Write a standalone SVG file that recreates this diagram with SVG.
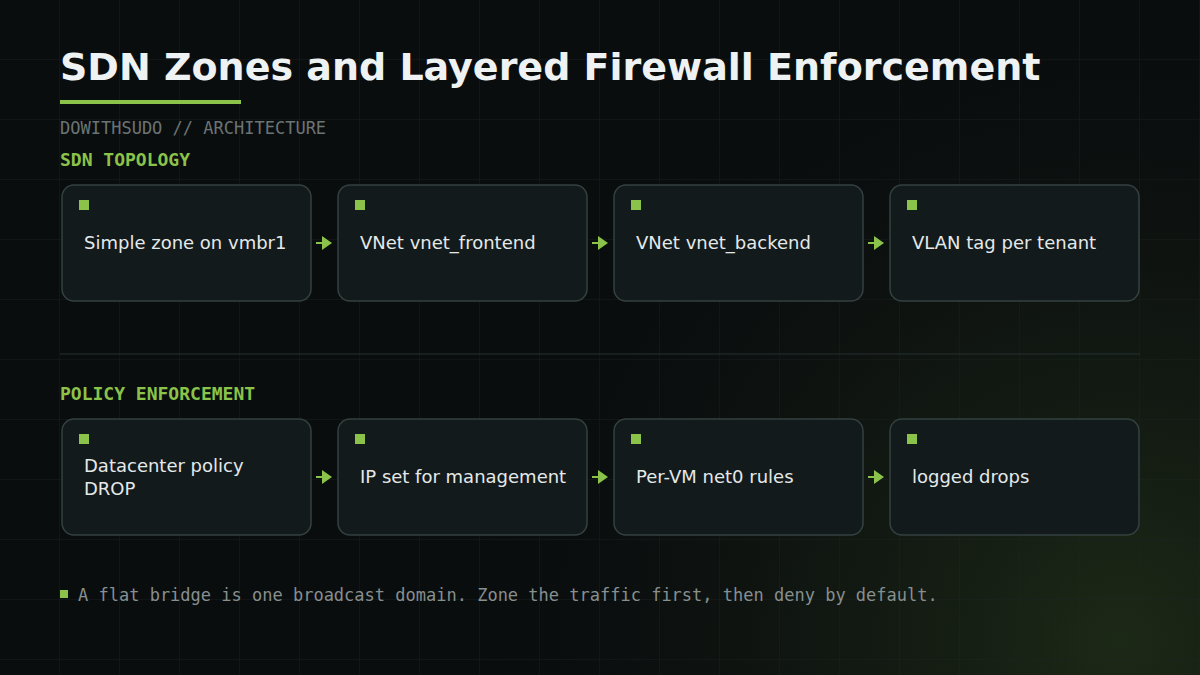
<svg xmlns="http://www.w3.org/2000/svg" width="1200" height="675" viewBox="0 0 1200 675">
  <defs>
    <pattern id="grid" width="60" height="60" patternUnits="userSpaceOnUse">
      <path d="M60 0V60M0 60H60" fill="none" stroke="#1c2424" stroke-width="1" opacity="0.7"/>
    </pattern>
    <radialGradient id="glow" cx="1120" cy="640" r="650" gradientUnits="userSpaceOnUse">
      <stop offset="0" stop-color="#1f2c18" stop-opacity="0.9"/>
      <stop offset="0.5" stop-color="#161f14" stop-opacity="0.5"/>
      <stop offset="1" stop-color="#0a0d0e" stop-opacity="0"/>
    </radialGradient>
    <marker id="arr" viewBox="0 0 10 14" refX="0" refY="7" markerWidth="10" markerHeight="14" markerUnits="userSpaceOnUse" orient="auto">
      <path d="M0 0L10 7L0 14Z" fill="#8bc34a"/>
    </marker>
    <style>
      .title{font-family:"DejaVu Sans",sans-serif;font-weight:bold;font-size:38px;fill:#eef2f3}
      .sub{font-family:"DejaVu Sans Mono",monospace;font-size:17px;fill:#6b7474}
      .sec{font-family:"DejaVu Sans Mono",monospace;font-weight:bold;font-size:18px;fill:#8bc34a}
      .box{fill:#131a1b;stroke:#354040;stroke-width:1.5}
      .dot{fill:#8bc34a}
      .lbl{font-family:"DejaVu Sans",sans-serif;font-size:18px;fill:#e4e9ea}
      .conn{stroke:#8bc34a;stroke-width:2;fill:none}
      .foot{font-family:"DejaVu Sans Mono",monospace;font-size:17px;fill:#878f8f}
    </style>
  </defs>
  <rect width="1200" height="675" fill="#0a0d0e"/>
  <rect width="1200" height="675" fill="url(#glow)"/>
  <rect width="1200" height="675" fill="url(#grid)"/>

  <text class="title" x="60" y="80">SDN Zones and Layered Firewall Enforcement</text>
  <rect x="60" y="100" width="181" height="4" fill="#8bc34a"/>
  <text class="sub" x="60" y="134">DOWITHSUDO // ARCHITECTURE</text>

  <text class="sec" x="60" y="166">SDN TOPOLOGY</text>

  <g id="n1"><rect class="box" x="62" y="185" width="249" height="116" rx="12"/><rect class="dot" x="79" y="200" width="10" height="10"/><text class="lbl" x="84" y="249">Simple zone on vmbr1</text></g>
  <g id="n2"><rect class="box" x="338" y="185" width="249" height="116" rx="12"/><rect class="dot" x="355" y="200" width="10" height="10"/><text class="lbl" x="360" y="249">VNet vnet_frontend</text></g>
  <g id="n3"><rect class="box" x="614" y="185" width="249" height="116" rx="12"/><rect class="dot" x="631" y="200" width="10" height="10"/><text class="lbl" x="636" y="249">VNet vnet_backend</text></g>
  <g id="n4"><rect class="box" x="890" y="185" width="249" height="116" rx="12"/><rect class="dot" x="907" y="200" width="10" height="10"/><text class="lbl" x="912" y="249">VLAN tag per tenant</text></g>

  <line x1="60" y1="354" x2="1140" y2="354" stroke="#253030" stroke-width="1"/>

  <text class="sec" x="60" y="400">POLICY ENFORCEMENT</text>

  <g id="p1"><rect class="box" x="62" y="419" width="249" height="116" rx="12"/><rect class="dot" x="79" y="434" width="10" height="10"/><text class="lbl" x="84" y="472">Datacenter policy</text><text class="lbl" x="84" y="495">DROP</text></g>
  <g id="p2"><rect class="box" x="338" y="419" width="249" height="116" rx="12"/><rect class="dot" x="355" y="434" width="10" height="10"/><text class="lbl" x="360" y="483">IP set for management</text></g>
  <g id="p3"><rect class="box" x="614" y="419" width="249" height="116" rx="12"/><rect class="dot" x="631" y="434" width="10" height="10"/><text class="lbl" x="636" y="483">Per-VM net0 rules</text></g>
  <g id="p4"><rect class="box" x="890" y="419" width="249" height="116" rx="12"/><rect class="dot" x="907" y="434" width="10" height="10"/><text class="lbl" x="912" y="483">logged drops</text></g>

  <g id="connectors">
    <line class="conn" x1="316" y1="243" x2="322" y2="243" marker-end="url(#arr)"/>
    <line class="conn" x1="592" y1="243" x2="598" y2="243" marker-end="url(#arr)"/>
    <line class="conn" x1="868" y1="243" x2="874" y2="243" marker-end="url(#arr)"/>
    <line class="conn" x1="316" y1="477" x2="322" y2="477" marker-end="url(#arr)"/>
    <line class="conn" x1="592" y1="477" x2="598" y2="477" marker-end="url(#arr)"/>
    <line class="conn" x1="868" y1="477" x2="874" y2="477" marker-end="url(#arr)"/>
  </g>

  <rect class="dot" x="60" y="590" width="8" height="8"/>
  <text class="foot" x="78" y="601">A flat bridge is one broadcast domain. Zone the traffic first, then deny by default.</text>
</svg>
